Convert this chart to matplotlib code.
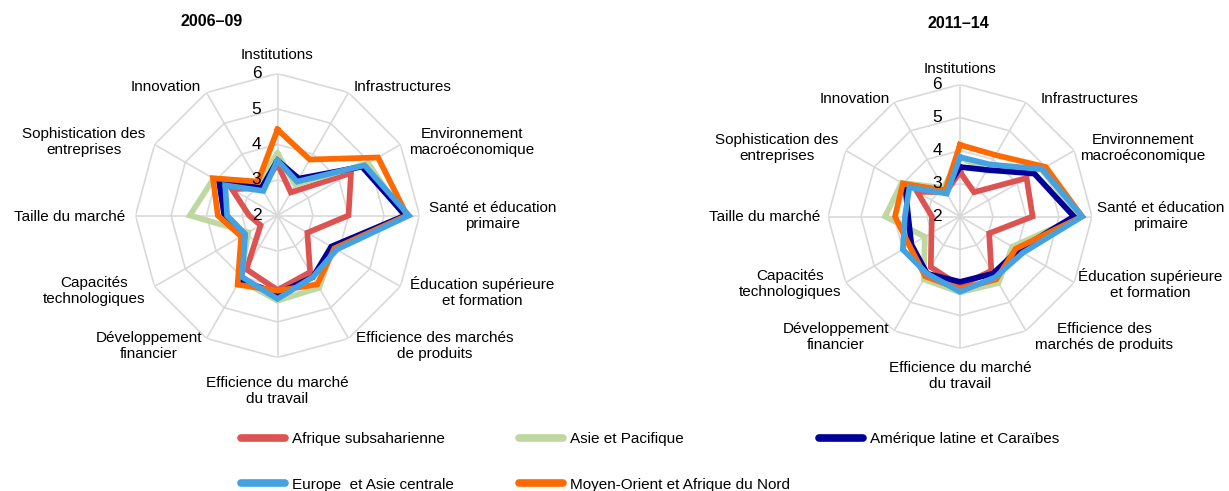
import numpy as np
import matplotlib
matplotlib.use("Agg")
import matplotlib.pyplot as plt
from matplotlib import font_manager
from matplotlib.lines import Line2D
from matplotlib.transforms import ScaledTranslation

# ---- data -------------------------------------------------------------
labels_left = ['Institutions', 'Infrastructures', 'Environnement\nmacroéconomique',
               'Santé et éducation\nprimaire', 'Éducation supérieure\net formation',
               'Efficience des marchés\nde produits', 'Efficience du marché\ndu travail',
               'Développement\nfinancier', 'Capacités\ntechnologiques', 'Taille du marché',
               'Sophistication des\nentreprises', 'Innovation']
labels_right = ['Institutions', 'Infrastructures', 'Environnement\nmacroéconomique',
                'Santé et éducation\nprimaire', 'Éducation supérieure\net formation',
                'Efficience des\nmarchés de produits', 'Efficience du marché\ndu travail',
                'Développement\nfinancier', 'Capacités\ntechnologiques', 'Taille du marché',
                'Sophistication des\nentreprises', 'Innovation']

series_names = ['Afrique subsaharienne', 'Asie et Pacifique', 'Amérique latine et Caraïbes',
                'Europe  et Asie centrale', 'Moyen-Orient et Afrique du Nord']

# 2006-09
ssa_0609 = [3.45, 2.75, 4.39, 4.0, 2.97, 3.84, 4.1, 3.75, 2.55, 2.8, 3.48, 2.9]
eap_0609 = [3.75, 3.0, 4.95, 5.55, 3.8, 4.35, 4.4, 4.1, 2.95, 4.47, 4.08, 3.1]
lac_0609 = [3.55, 3.2, 4.75, 5.6, 3.75, 4.0, 4.2, 4.1, 3.07, 3.5, 3.9, 2.9]
eca_0609 = [3.55, 3.1, 4.83, 5.7, 3.92, 4.0, 4.35, 4.0, 3.05, 3.42, 3.7, 2.8]
mena_0609 = [4.42, 3.82, 5.27, 5.65, 3.85, 4.24, 4.12, 4.25, 3.18, 3.68, 4.1, 3.1]

# 2011-14
ssa_1114 = [3.35, 2.85, 4.33, 4.2, 3.02, 3.9, 4.1, 3.77, 3.0, 2.85, 3.5, 2.85]
eap_1114 = [3.8, 3.6, 4.85, 5.6, 3.83, 4.33, 4.3, 4.2, 3.23, 4.27, 4.04, 3.0]
lac_1114 = [3.5, 3.63, 4.6, 5.45, 4.03, 4.0, 3.98, 4.0, 3.7, 3.57, 3.92, 2.9]
eca_1114 = [3.8, 3.82, 4.87, 5.7, 4.2, 4.13, 4.28, 4.0, 4.0, 3.67, 3.77, 2.8]
mena_1114 = [4.17, 4.15, 5.0, 5.7, 3.95, 4.2, 4.2, 4.1, 3.77, 3.97, 4.0, 2.9]

ticks = [2, 3, 4, 5, 6]

# ---- style ------------------------------------------------------------
colors = ['#DD5352', '#BFD8A2', '#000099', '#45A2E2', '#FF6A00']
zorders = [3, 4, 5, 7, 6]
grid_col = '#D9D9D9'

names = {f.name for f in font_manager.fontManager.ttflist}
if 'Liberation Sans Narrow' in names:
    fam = ['Liberation Sans Narrow', 'DejaVu Sans']
    fs = 12
else:
    fam = ['Liberation Sans', 'DejaVu Sans']
    fs = 11
plt.rcParams['font.family'] = fam

W, H = 1229, 491
fig = plt.figure(figsize=(W / 100, H / 100), dpi=100)


def px(x, y):
    return x / W, 1 - y / H


def radar(cx, cy, rad, data, labels, lpos, title, tpos, tick_dx):
    ax = fig.add_axes([(cx - rad) / W, 1 - (cy + rad) / H, 2 * rad / W, 2 * rad / H],
                      projection='polar')
    n = len(labels)
    theta = np.arange(n) * 2 * np.pi / n
    ax.set_theta_zero_location('N')
    ax.set_theta_direction(-1)
    ax.set_ylim(2, 6)
    ax.grid(False)
    ax.set_xticks([])
    ax.set_yticks([])
    ax.spines['polar'].set_visible(False)
    ax.patch.set_alpha(0)

    closed = np.append(theta, theta[0])
    for v in ticks[1:]:
        ax.plot(closed, [v] * (n + 1), color=grid_col, lw=1.2, zorder=1)
    for t in theta:
        ax.plot([t, t], [2, 6], color=grid_col, lw=1.2, zorder=1)

    for vals, c, z in zip(data, colors, zorders):
        ax.plot(closed, vals + vals[:1], color=c, lw=4.1, zorder=z,
                solid_joinstyle='miter', clip_on=False)

    off = ScaledTranslation(tick_dx / 100, 0, fig.dpi_scale_trans)
    for v in ticks:
        ax.text(0, v, str(v), transform=ax.transData + off, ha='center', va='center',
                fontsize=fs + 1.5, zorder=10)

    for lab, (x, y) in zip(labels, lpos):
        fig.text(*px(x, y), lab, ha='center', va='center', fontsize=fs,
                 multialignment='center', linespacing=1.2)
    fig.text(*px(*tpos), title, ha='center', va='center', fontsize=fs + 0.5,
             fontweight='bold')


lpos_left = [(277, 55), (403, 87), (472, 142), (493, 216), (482, 292), (435, 346),
             (277, 391), (149, 346), (94, 291), (70, 217), (84, 142), (166, 87)]
lpos_right = [(960, 69), (1090, 99), (1143, 148), (1161, 216), (1150, 284), (1104, 337),
              (960, 376), (836, 337), (790, 284), (765, 217), (777, 148), (855, 99)]

radar(277.5, 215.5, 142, [ssa_0609, eap_0609, lac_0609, eca_0609, mena_0609],
      labels_left, lpos_left, '2006–09', (212, 22), -21)
radar(960, 216.5, 132, [ssa_1114, eap_1114, lac_1114, eca_1114, mena_1114],
      labels_right, lpos_right, '2011–14', (958, 23), -23)

# ---- legend -----------------------------------------------------------
handles = [Line2D([], [], color=c, lw=5.5, solid_capstyle='round') for c in colors]
cols = [([0, 3], 241), ([1, 4], 519), ([2], 819)]
for idx, x in cols:
    fig.legend([handles[i] for i in idx], [series_names[i] for i in idx],
               loc='upper left', bbox_to_anchor=px(x, 432), frameon=False,
               fontsize=fs, handlelength=2.85, handletextpad=0.5,
               labelspacing=2.08, borderpad=0, borderaxespad=0)

fig.savefig('out.png', dpi=100)
